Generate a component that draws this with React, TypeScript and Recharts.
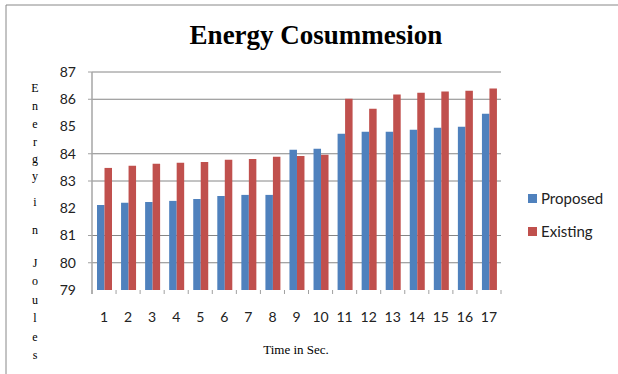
import React from "react";
import { BarChart, Bar, XAxis, YAxis, CartesianGrid } from "recharts";

const times = ["1", "2", "3", "4", "5", "6", "7", "8", "9", "10", "11", "12", "13", "14", "15", "16", "17"];
const proposed = [82.12, 82.2, 82.23, 82.27, 82.34, 82.45, 82.49, 82.49, 84.15, 84.18, 84.73, 84.81, 84.81, 84.88, 84.95, 84.99, 85.47];
const existing = [83.48, 83.56, 83.63, 83.67, 83.7, 83.78, 83.81, 83.89, 83.92, 83.96, 86.02, 85.65, 86.17, 86.24, 86.28, 86.31, 86.39];
const yTicks = [79, 80, 81, 82, 83, 84, 85, 86, 87];
const gridValues = [80, 81, 83, 84, 86, 87];
const seriesNames = ["Proposed", "Existing"];
const title = "Energy Cosummesion";
const xTitle = "Time in Sec.";
const yTitle = "Energy in Joules";

const data = times.map((t, i) => ({ t, Proposed: proposed[i], Existing: existing[i] }));

const W = 618;
const H = 374;
const X_H = 84;
const Y_W = 92;
const M = { top: 72, right: 117, bottom: 0, left: 0 };
const PLOT_L = M.left + Y_W;
const PLOT_R = W - M.right;
const PLOT_B = H - M.bottom - X_H;
const BAND = (PLOT_R - PLOT_L) / times.length;

const BLUE = "#4F81BD";
const RED = "#C0504D";
const COLORS = [BLUE, RED];
const GRID = "#868686";
const TICKC = "#a0a0a0";
const SANS = "Lato, 'Open Sans', sans-serif";
const SERIF = "'Liberation Serif', 'Times New Roman', serif";

const XTick = (props: any) => {
  const { x, payload, index } = props;
  const left = x - BAND / 2;
  return (
    <g>
      <line x1={left} x2={left} y1={PLOT_B} y2={PLOT_B + 4} stroke={TICKC} strokeWidth={1} />
      {index === times.length - 1 && (
        <line x1={x + BAND / 2} x2={x + BAND / 2} y1={PLOT_B} y2={PLOT_B + 4} stroke={TICKC} strokeWidth={1} />
      )}
      <text x={x} y={317} dy="0.35em" textAnchor="middle" fontFamily={SANS} fontSize={14} fill="#222">
        {payload.value}
      </text>
    </g>
  );
};

const YTick = (props: any) => {
  const { y, payload } = props;
  const showMark = gridValues.indexOf(payload.value) >= 0;
  return (
    <g>
      {showMark && <line x1={PLOT_L - 4} x2={PLOT_L} y1={y} y2={y} stroke={TICKC} strokeWidth={1} />}
      <text x={76} y={y} dy="0.35em" textAnchor="end" fontFamily={SANS} fontSize={14} fill="#222">
        {payload.value}
      </text>
    </g>
  );
};

const letterYs = [88, 106, 124, 142, 159, 176, 202, 230, 263, 281, 300, 318, 337, 355];

export default function App() {
  const letters = yTitle.replace(/ /g, "").split("");
  return (
    <div style={{ position: "absolute", left: 0, top: 0, width: W, height: H, background: "#fff" }}>
      <BarChart width={W} height={H} data={data} margin={M} barGap={0} barSize={7.5}>
        <CartesianGrid vertical={false} horizontalValues={gridValues} stroke={GRID} strokeWidth={1} />
        <XAxis dataKey="t" axisLine={false} tickLine={false} interval={0} tick={<XTick />} height={X_H} />
        <YAxis
          type="number"
          domain={[79, 87]}
          ticks={yTicks}
          interval={0}
          width={Y_W}
          axisLine={false}
          tickLine={false}
          tick={<YTick />}
        />
        <Bar dataKey="Proposed" fill={BLUE} isAnimationActive={false} />
        <Bar dataKey="Existing" fill={RED} isAnimationActive={false} />
      </BarChart>
      <svg
        width={W}
        height={H}
        style={{ position: "absolute", left: 0, top: 0, pointerEvents: "none" }}
      >
        <line x1={6} y1={5} x2={W} y2={5} stroke="#888" strokeWidth={1} />
        <line x1={6} y1={5} x2={6} y2={H} stroke="#888" strokeWidth={1} />
        <line x1={PLOT_L} y1={M.top} x2={PLOT_L} y2={PLOT_B + 4} stroke="#a6a6a6" strokeWidth={1.5} />
        <text x={316} y={44} textAnchor="middle" fontFamily={SERIF} fontWeight="bold" fontSize={27} fill="#000">
          {title}
        </text>
        <text x={296} y={349} dy="0.35em" textAnchor="middle" fontFamily={SERIF} fontSize={13} fill="#000">
          {xTitle}
        </text>
        {letters.map((ch, i) => (
          <text
            key={i}
            x={35}
            y={letterYs[i]}
            dy="0.35em"
            textAnchor="middle"
            fontFamily={SERIF}
            fontSize={12}
            fill="#000"
          >
            {ch}
          </text>
        ))}
        {seriesNames.map((name, i) => (
          <g key={name}>
            <rect x={528} y={194 + i * 33} width={9} height={9} fill={COLORS[i]} />
            <text x={541} y={199 + i * 33} dy="0.35em" fontFamily={SANS} fontSize={15} fill="#222">
              {name}
            </text>
          </g>
        ))}
      </svg>
    </div>
  );
}
